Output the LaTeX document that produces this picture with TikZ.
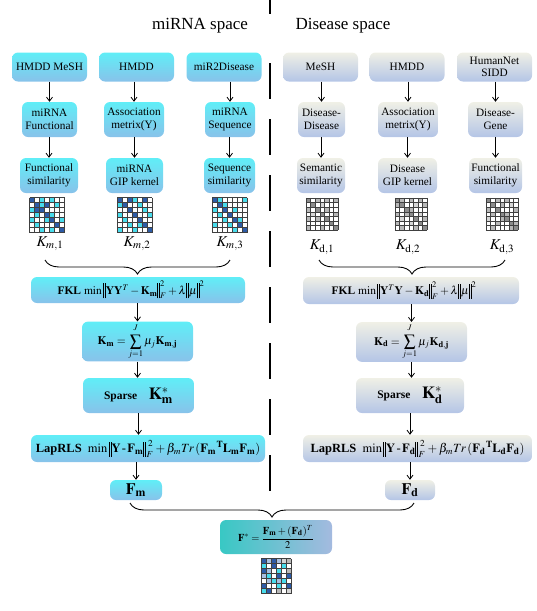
\documentclass[tikz,border=0pt]{standalone}
\usepackage{amsmath}
\usepackage{mathptmx}
\usepackage{fontspec}
\setmainfont{Liberation Serif}
\usetikzlibrary{arrows.meta,decorations.pathreplacing,calc}
\definecolor{mtop}{HTML}{60EEF7}
\definecolor{mbot}{HTML}{88C2EA}
\definecolor{dtop}{HTML}{F0F0E6}
\definecolor{dbot}{HTML}{B4C5E6}
\definecolor{fleft}{HTML}{38C8C4}
\definecolor{fright}{HTML}{A4BADF}
\definecolor{cD}{HTML}{2D5BA6}
\definecolor{cC}{HTML}{48DCEC}
\definecolor{cB}{HTML}{A8C0E0}
\definecolor{cW}{HTML}{FFFFFF}
\definecolor{gD}{HTML}{8C8C8C}
\definecolor{gM}{HTML}{B8B8B8}
\definecolor{gL}{HTML}{D6D6D6}
\definecolor{gridc}{HTML}{404040}
\newcommand{\nbar}{\mathord{\rule[-4pt]{0.7pt}{15pt}\kern1.3pt\rule[-4pt]{0.7pt}{15pt}}}
\newcommand{\supT}{\kern0.6pt\raisebox{5pt}{$\scriptstyle\mathbf{T}$}}
\newcommand{\normFsq}{\kern0.5pt\raisebox{-4.5pt}{$\scriptstyle F$}\kern-4.8pt\raisebox{6.5pt}{$\scriptstyle 2$}\kern1pt}
\newcommand{\drawmatrix}[6]{%
  \begin{scope}[shift={(#1,#2)}]
    \foreach \rw [count=\ri] in {#6} {
      \foreach \cl [count=\ci] in \rw {
        \fill[\cl] ({(\ci-1)*#3},{(\ri-1)*#3}) rectangle ++(#3,#3);
      }
    }
    \foreach \k in {0,...,#4} \draw[gridc,line width=0.4pt] ({\k*#3},0) -- ++(0,{#5*#3});
    \foreach \k in {0,...,#5} \draw[gridc,line width=0.4pt] (0,{\k*#3}) -- ++({#4*#3},0);
  \end{scope}}
\tikzset{
  mbox/.style={rounded corners=6pt, top color=mtop, bottom color=mbot, draw=none,
    align=center, inner sep=2pt, font=\fontsize{11.3}{13}\selectfont},
  dbox/.style={rounded corners=6pt, top color=dtop, bottom color=dbot, draw=none,
    align=center, inner sep=2pt, font=\fontsize{11.3}{13}\selectfont},
  fbox/.style={rounded corners=6pt, left color=fleft, right color=fright, draw=none,
    align=center, inner sep=2pt, font=\fontsize{10.5}{12}\selectfont},
  arr/.style={-{Straight Barb[length=4pt,width=6pt]}, line width=0.8pt},
  klabel/.style={font=\fontsize{15}{15}\selectfont, inner sep=0pt},
  ttl/.style={font=\fontsize{17}{17}\selectfont, inner sep=0pt},
  brc/.style={decorate, decoration={brace,mirror,amplitude=14pt}, line width=0.9pt},
  eqf/.style={font=\fontsize{11.5}{13}\selectfont},
  lapf/.style={font=\fontsize{12.5}{14}\selectfont}
}
\begin{document}
\begin{tikzpicture}[x=1pt,y=-1pt]
\useasboundingbox (0,0) rectangle (537,611);
% divider
\draw[line width=2.4pt] (270,0) -- (270,14);
\draw[line width=2.4pt, dash pattern=on 36pt off 20pt] (270,63) -- (270,495);
% titles
\node[ttl] (t1) at (200,26) {miRNA space};
\node[ttl] (t2) at (343,26) {Disease space};
% miRNA row 1
\node[mbox, minimum width=75pt, minimum height=29pt] (m1a) at (49.5,67) {HMDD MeSH};
\node[mbox, minimum width=75pt, minimum height=29pt] (m1b) at (136.5,67) {HMDD};
\node[mbox, minimum width=75pt, minimum height=29pt] (m1c) at (224,67) {miR2Disease};
% disease row 1
\node[dbox, minimum width=75pt, minimum height=29pt] (d1a) at (320.5,67) {MeSH};
\node[dbox, minimum width=75pt, minimum height=29pt] (d1b) at (407,67) {HMDD};
\node[dbox, minimum width=75pt, minimum height=29pt, font=\fontsize{11.3}{12.5}\selectfont] (d1c) at (494.5,67) {HumanNet\\SIDD};
% row 2
\node[mbox, minimum width=55pt, minimum height=35pt] (m2a) at (49.5,119.5) {miRNA\\Functional};
\node[mbox, minimum width=60pt, minimum height=35pt] (m2b) at (134,119.5) {Association\\metrix(Y)};
\node[mbox, minimum width=50pt, minimum height=35pt] (m2c) at (230,119.5) {miRNA\\Sequence};
\node[dbox, minimum width=47pt, minimum height=35pt] (d2a) at (321.5,119.5) {Disease-\\Disease};
\node[dbox, minimum width=60pt, minimum height=35pt] (d2b) at (408,119.5) {Association\\metrix(Y)};
\node[dbox, minimum width=55pt, minimum height=35pt] (d2c) at (495.5,119.5) {Disease-\\Gene};
% row 3
\node[mbox, minimum width=58pt, minimum height=35pt] (m3a) at (49,175.5) {Functional\\similarity};
\node[mbox, minimum width=57pt, minimum height=35pt] (m3b) at (134.5,175.5) {miRNA\\GIP kernel};
\node[mbox, minimum width=51pt, minimum height=35pt] (m3c) at (229.5,175.5) {Sequence\\similarity};
\node[dbox, minimum width=48pt, minimum height=35pt] (d3a) at (321,175.5) {Semantic\\similarity};
\node[dbox, minimum width=59pt, minimum height=35pt] (d3b) at (407.5,175.5) {Disease\\GIP kernel};
\node[dbox, minimum width=53pt, minimum height=35pt] (d3c) at (495.5,175.5) {Functional\\similarity};
% arrows rows
\foreach \a/\b in {m1a/m2a,m1b/m2b,m1c/m2c,m2a/m3a,m2b/m3b,m2c/m3c,d1a/d2a,d1b/d2b,d1c/d2c,d2a/d3a,d2b/d3b,d2c/d3c}
  \draw[arr] (\a.south -| \b.north) -- (\b.north);
% matrices miRNA
\drawmatrix{29.5}{197.5}{5}{7}{7}{{cD,cW,cC,cW,cC,cW,cW},{cW,cD,cC,cD,cW,cC,cW},{cC,cD,cD,cW,cW,cW,cW},{cW,cC,cW,cD,cC,cW,cW},{cC,cW,cW,cC,cD,cW,cC},{cW,cC,cW,cW,cW,cD,cW},{cW,cW,cC,cW,cC,cW,cD}}
\drawmatrix{117}{197.5}{5}{7}{7}{{cD,cW,cD,cC,cW,cD,cW},{cC,cD,cW,cW,cC,cW,cW},{cW,cW,cD,cW,cW,cC,cW},{cC,cW,cW,cD,cW,cW,cC},{cW,cC,cW,cW,cD,cW,cW},{cW,cW,cC,cW,cC,cD,cW},{cC,cW,cW,cC,cW,cW,cD}}
\drawmatrix{212}{197.5}{5}{7}{7}{{cD,cC,cW,cW,cW,cW,cC},{cW,cD,cC,cW,cW,cW,cW},{cC,cW,cD,cW,cC,cW,cW},{cW,cC,cW,cD,cW,cW,cW},{cW,cW,cC,cW,cD,cC,cW},{cC,cW,cW,cC,cW,cD,cW},{cW,cW,cW,cW,cC,cW,cD}}
% matrices disease
\drawmatrix{305.9}{197.9}{4.6}{7}{7}{{gD,cW,gM,cW,gM,cW,gM},{cW,gD,cW,gL,cW,cW,cW},{gM,cW,gD,cW,gM,cW,cW},{cW,gL,cW,gD,cW,cW,gM},{gM,cW,gM,cW,gD,cW,cW},{cW,cW,cW,cW,cW,gD,cW},{gM,cW,cW,gM,cW,cW,gD}}
\drawmatrix{394.9}{197.9}{4.6}{7}{7}{{gD,gM,cW,gM,cW,gM,cW},{gM,gD,cW,cW,gL,cW,gM},{cW,cW,gD,gM,cW,cW,cW},{gM,cW,gM,gD,cW,gL,cW},{cW,gL,cW,cW,gD,cW,gM},{gM,cW,cW,gL,cW,gD,cW},{cW,gM,cW,cW,gM,cW,gD}}
\drawmatrix{485.9}{197.9}{4.6}{7}{7}{{gD,cW,gM,cW,gM,cW,cW},{cW,gD,cW,gM,cW,gL,cW},{gM,cW,gD,cW,cW,cW,gM},{cW,gM,cW,gD,gM,cW,cW},{gL,cW,cW,gM,gD,cW,cW},{cW,cW,gM,cW,cW,gD,gM},{cW,gM,cW,cW,cW,gM,gD}}
% K labels
\node[klabel] (km1) at (50,244) {$K_{m,1}$};
\node[klabel] (km2) at (137,244) {$K_{m,2}$};
\node[klabel] (km3) at (230,244) {$K_{m,3}$};
\node[klabel] (kd1) at (322,247) {$K_{\mathrm{d},1}$};
\node[klabel] (kd2) at (408,247) {$K_{\mathrm{d},2}$};
\node[klabel] (kd3) at (502,247) {$K_{\mathrm{d},3}$};
% braces
\coordinate (bm1) at (45,260);
\coordinate (bm2) at (230,260);
\coordinate (bd1) at (319,260);
\coordinate (bd2) at (505,260);
\draw[brc] (bm1) -- (bm2);
\draw[brc] (bd1) -- (bd2);
% FKL
\node[mbox, eqf, minimum width=214pt, minimum height=26pt] (FKLm) at (138,290)
  {\textbf{FKL} $\min\nbar\mathbf{Y}\mathbf{Y}^{T}-\mathbf{K}_{\mathbf{m}}\nbar_{F}^{2}+\lambda\nbar\boldsymbol{\mu}\nbar^{2}$\hspace*{14pt}};
\node[dbox, eqf, minimum width=216pt, minimum height=27pt] (FKLd) at (411,290.5)
  {\textbf{FKL} $\min\nbar\mathbf{Y}^{T}\mathbf{Y}-\mathbf{K}_{\mathbf{d}}\nbar_{F}^{2}+\lambda\nbar\boldsymbol{\mu}\nbar^{2}$\hspace*{14pt}};
% K sums
\node[mbox, eqf, minimum width=111pt, minimum height=33pt] (Km) at (137.5,341.5)
  {$\displaystyle\mathbf{K}_{\mathbf{m}}=\sum_{j=1}^{\raisebox{2pt}{$\scriptstyle J$}}\mu_{j}\mathbf{K}_{\mathbf{m},\mathbf{j}}$};
\node[dbox, eqf, minimum width=111pt, minimum height=34pt] (Kd) at (411.5,342)
  {$\displaystyle\mathbf{K}_{\mathbf{d}}=\sum_{j=1}^{\raisebox{2pt}{$\scriptstyle J$}}\mu_{j}\mathbf{K}_{\mathbf{d},\mathbf{j}}$};
% Sparse
\node[mbox, eqf, minimum width=111pt, minimum height=35pt] (Sm) at (138.5,395.5)
  {\textbf{Sparse}\quad{\fontsize{17}{17}\selectfont$\mathbf{K}_{\mathbf{m}}^{*}$}};
\node[dbox, eqf, minimum width=108pt, minimum height=35pt] (Sd) at (410,395.5)
  {\textbf{Sparse}\quad{\fontsize{17}{17}\selectfont$\mathbf{K}_{\mathbf{d}}^{*}$}};
% LapRLS
\node[mbox, lapf, minimum width=234pt, minimum height=27pt] (Lm) at (148,448.5)
  {\textbf{LapRLS}\ \ $\min\nbar\mathbf{Y}\,\text{-}\,\mathbf{F}_{\mathbf{m}}\nbar\normFsq+\beta_{m}Tr\,(\mathbf{F}_{\mathbf{m}}\supT\mathbf{L}_{\mathbf{m}}\mathbf{F}_{\mathbf{m}})$};
\node[dbox, lapf, minimum width=229pt, minimum height=27pt] (Ld) at (417.5,448.5)
  {\textbf{LapRLS}\ \ $\min\nbar\mathbf{Y}\,\text{-}\,\mathbf{F}_{\mathbf{d}}\nbar\normFsq+\beta_{m}Tr\,(\mathbf{F}_{\mathbf{d}}\supT\mathbf{L}_{\mathbf{d}}\mathbf{F}_{\mathbf{d}})$};
% F
\node[mbox, font=\fontsize{16}{16}\selectfont, minimum width=52pt, minimum height=20pt, inner sep=0pt] (Fm) at (136,490) {$\mathbf{F}_{\mathbf{m}}$};
\node[dbox, font=\fontsize{16}{16}\selectfont, minimum width=50pt, minimum height=20pt, inner sep=0pt] (Fd) at (410,490) {$\mathbf{F}_{\mathbf{d}}$};
% arrows down the columns
\draw[arr] (FKLm.south -| Km.north) -- (Km.north);
\draw[arr] (Km.south) -- (Sm.north -| Km.south);
\draw[arr] (Sm.south) -- (Lm.north -| Sm.south);
\draw[arr] (Lm.south -| Fm.north) -- (Fm.north);
\draw[arr] (FKLd.south -| Kd.north) -- (Kd.north);
\draw[arr] (Kd.south) -- (Sd.north -| Kd.south);
\draw[arr] (Sd.south) -- (Ld.north -| Sd.south);
\draw[arr] (Ld.south -| Fd.north) -- (Fd.north);
% bottom brace
\coordinate (bb1) at (130,503);
\coordinate (bb2) at (414,503);
\draw[brc] (bb1) -- (bb2);
% F star
\node[fbox, minimum width=112pt, minimum height=34pt] (Fs) at (276,537)
  {$\mathbf{F}^{*}=\dfrac{\mathbf{F}_{\mathbf{m}}+(\mathbf{F}_{\mathbf{d}})^{T}}{2}$};
\drawmatrix{261}{558.5}{5}{6}{7}{{cD,cB,cD,cB,gL,gM},{cC,cW,cD,cW,cC,cW},{cD,cB,cW,cC,cW,gM},{cB,cC,cW,cD,cW,cD},{cW,cB,cC,cB,cC,cW},{cD,cW,cW,cC,cW,cD},{cC,cD,cW,gM,cW,gL}}
\end{tikzpicture}
\end{document}
